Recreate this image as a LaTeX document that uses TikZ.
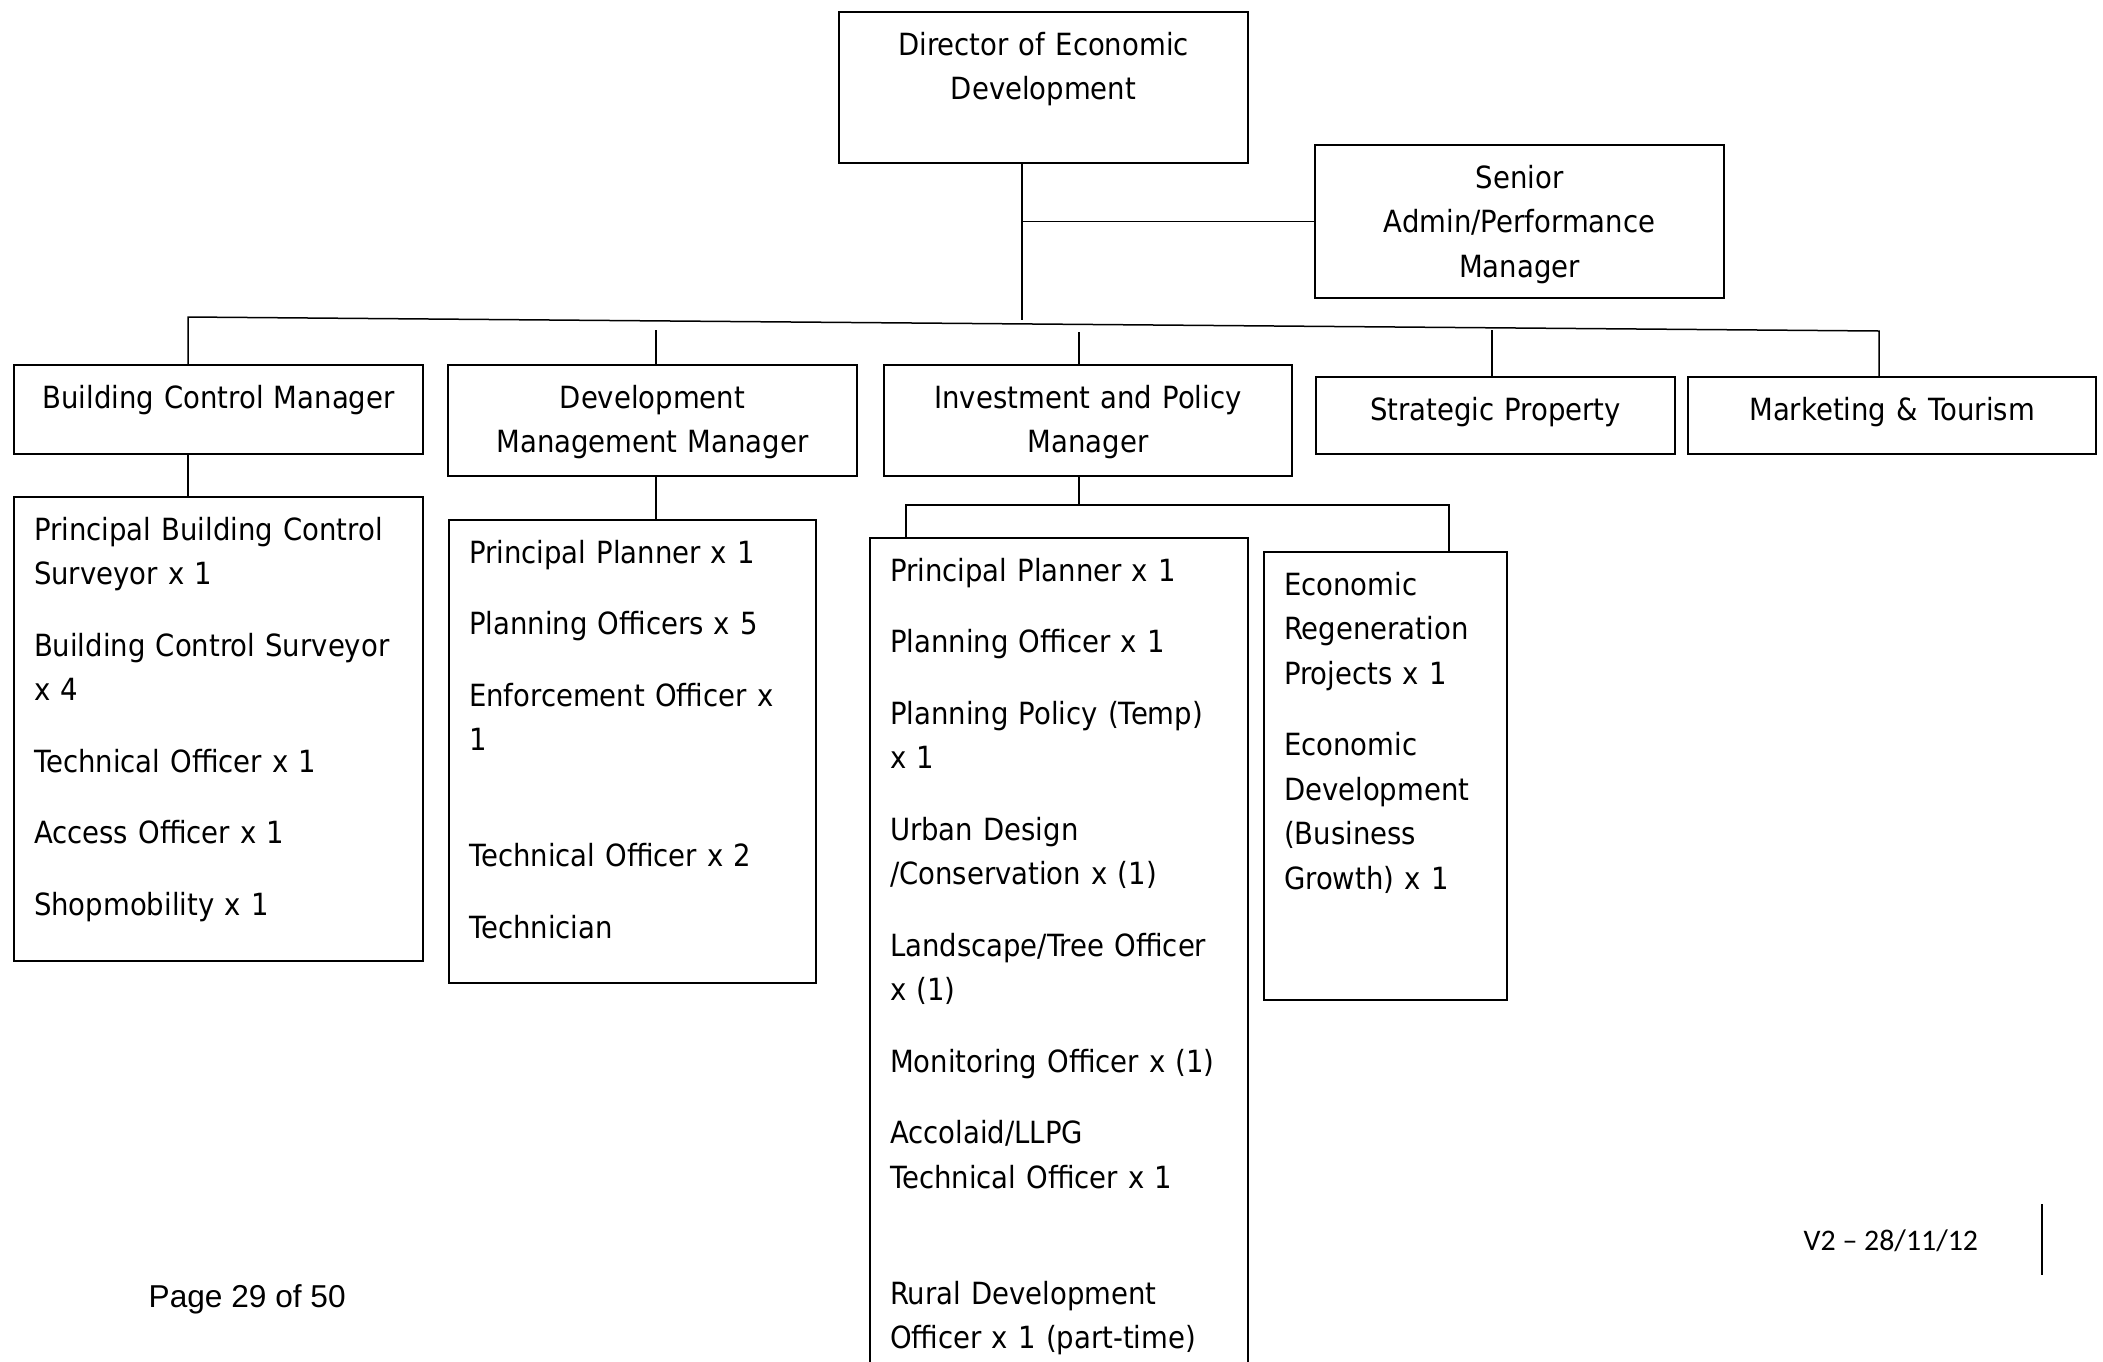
\documentclass[tikz,border=0pt]{standalone}
\usepackage{fontspec}
\setmainfont{DejaVu Sans}[FakeStretch=0.9]
\newfontfamily\calfont{Carlito}
\newfontfamily\arialfont{Liberation Sans}

\begin{document}
\begin{tikzpicture}[x=0.1mm,y=-0.1mm,
  box/.style={draw,line width=0.2mm,anchor=north west,inner xsep=2mm,inner ysep=1mm,
    text height=3.3mm,font=\fontsize{8.7pt}{4.45mm}\selectfont},
  hd/.style={box,align=center},
  lst/.style={box,align=left},
  link/.style={line width=0.15mm}]
\useasboundingbox (0,0) rectangle (2103,1361);
\clip (0,0) rectangle (2103,1361);
% director and admin
\node[hd,text width=36.9mm,text depth=9.8mm] (dir) at (838,11) {Director of Economic\\Development};
\node[hd,text width=36.9mm,text depth=10.0mm] (adm) at (1314,144) {Senior\\Admin/Performance\\Manager};
% managers row
\node[hd,text width=36.9mm,text depth=3.6mm] (bcm) at (13,364) {Building Control Manager};
\node[hd,text width=36.9mm,text depth=5.8mm] (dmm) at (447,364) {Development\\Management Manager};
\node[hd,text width=36.8mm,text depth=5.8mm] (ipm) at (883,364) {Investment and Policy\\Manager};
\node[hd,text width=31.9mm,text depth=2.4mm] (spr) at (1315,376) {Strategic Property};
\node[hd,text width=36.8mm,text depth=2.4mm] (mkt) at (1687,376) {Marketing \& Tourism};
% staff lists
\node[lst,text width=36.9mm,text depth=41.1mm] (bcs) at (13,496) {Principal Building Control\\Surveyor x 1\\[2.7mm]Building Control Surveyor\\x 4\\[2.7mm]Technical Officer x 1\\[2.7mm]Access Officer x 1\\[2.7mm]Shopmobility x 1};
\node[lst,text width=32.7mm,text depth=41.0mm] (dms) at (448,519) {Principal Planner x 1\\[2.7mm]Planning Officers x 5\\[2.7mm]Enforcement Officer x\\1\\[7.15mm]Technical Officer x 2\\[2.7mm]Technician};
\node[lst,text width=33.8mm,text depth=81.0mm] (ips) at (869,537) {Principal Planner x 1\\[2.7mm]Planning Officer x 1\\[2.7mm]Planning Policy (Temp)\\x 1\\[2.7mm]Urban Design\\/Conservation x (1)\\[2.7mm]Landscape/Tree Officer\\x (1)\\[2.7mm]Monitoring Officer x (1)\\[2.7mm]Accolaid/LLPG\\Technical Officer x 1\\[7.15mm]Rural Development\\Officer x 1 (part-time)};
\node[lst,text width=20.3mm,text depth=39.5mm] (ecr) at (1263,551) {Economic\\Regeneration\\Projects x 1\\[2.7mm]Economic\\Development\\(Business\\Growth) x 1};
% director spine
\coordinate (spine) at (1022,320);
\draw[link] (dir.south -| spine) -- (spine);
\draw[link] (spine |- adm.west) -- (adm.west);
% slanted bar over the managers
\coordinate (barL) at (188,317);
\coordinate (barR) at (1879,331);
\draw[link] (bcm.north -| barL) -- (barL) -- (barR) -- (mkt.north -| barR);
\coordinate (dmt) at (656,330);
\coordinate (ipt) at (1079,332);
\coordinate (spt) at (1492,330);
\foreach \c/\n in {dmt/dmm,ipt/ipm,spt/spr}
  \draw[link] (\c) -- (\c |- \n.north);
% managers to their staff
\draw[link] (bcm.south -| barL) -- (bcs.north -| barL);
\draw[link] (dmm.south -| dmt) -- (dms.north -| dmt);
\coordinate (fork) at (1079,505);
\coordinate (forkL) at (906,505);
\coordinate (forkR) at (1449,505);
\draw[link] (ipm.south -| fork) -- (fork);
\draw[link] (ips.north -| forkL) -- (forkL) -- (forkR) -- (ecr.north -| forkR);
% page footer
\node[font=\arialfont\fontsize{9pt}{11pt}\selectfont,anchor=base west,inner sep=0] (pg) at (148,1307) {Page 29 of 50};
\node[font=\calfont\fontsize{8.5pt}{10pt}\selectfont,anchor=base west,inner sep=0] (ver) at (1803,1250) {V2 \textendash{} 28/11/12};
\draw[line width=0.2mm] (2042,1204) -- (2042,1275);
\end{tikzpicture}
\end{document}
